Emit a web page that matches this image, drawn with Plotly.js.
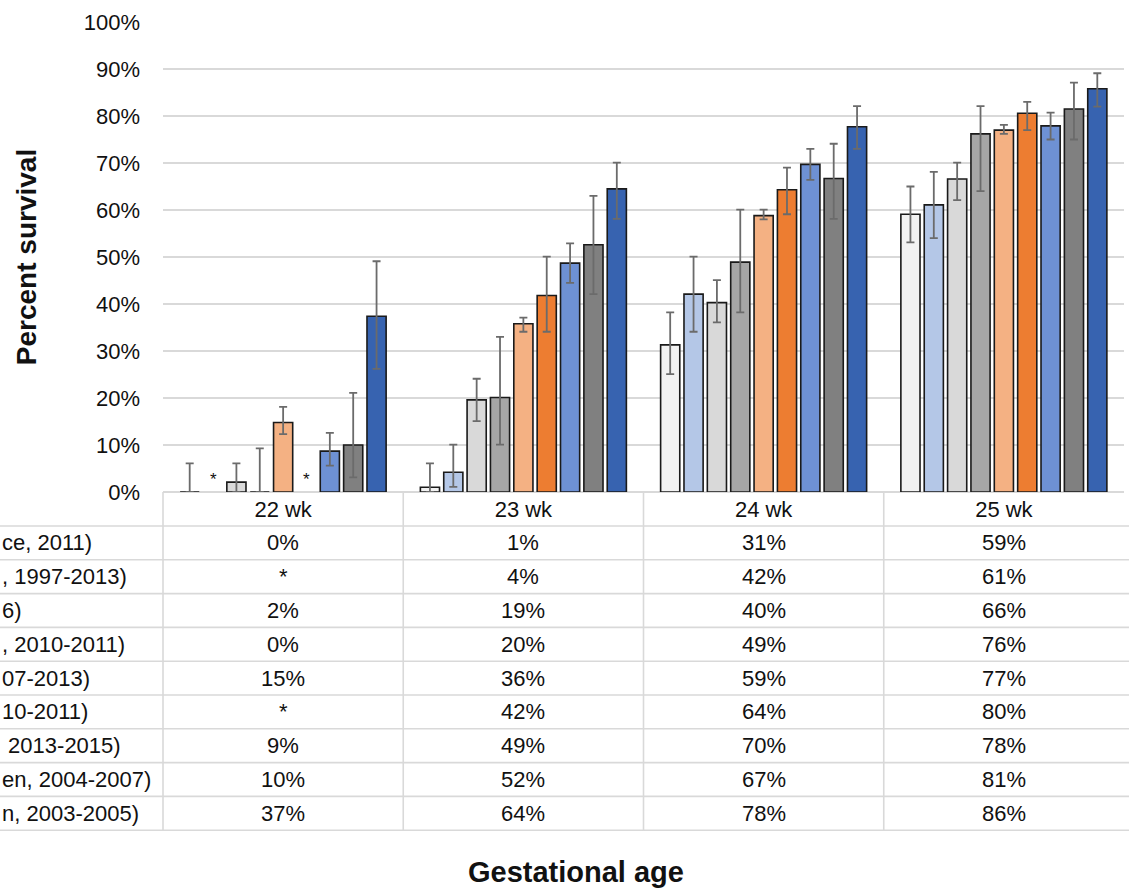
<!DOCTYPE html>
<html>
<head>
<meta charset="utf-8">
<script src="https://cdn.plot.ly/plotly-3.0.1.min.js"></script>
<style>html,body{margin:0;padding:0;background:#fff;}#chart{width:1129px;height:888px;}</style>
</head>
<body>
<div id="chart"></div>
<script>
// ---- data ----
var categories = ["22 wk", "23 wk", "24 wk", "25 wk"];
var seriesLabels = ["ce, 2011)", ", 1997-2013)", "6)", ", 2010-2011)", "07-2013)", "10-2011)", " 2013-2015)", "en, 2004-2007)", "n, 2003-2005)"];
var seriesColors = ["#F2F2F2", "#B4C7E7", "#D9D9D9", "#A6A6A6", "#F4B183", "#ED7D31", "#6E91D4", "#808080", "#3763B0"];

var s1 = [0, 1, 31.3, 59.1];
var s2 = [null, 4.2, 42.1, 61.1];
var s3 = [2.1, 19.6, 40.3, 66.6];
var s4 = [0, 20.1, 48.9, 76.2];
var s5 = [14.8, 35.8, 58.8, 77.0];
var s6 = [null, 41.8, 64.3, 80.6];
var s7 = [8.7, 48.7, 69.7, 77.9];
var s8 = [10.0, 52.6, 66.7, 81.5];
var s9 = [37.4, 64.5, 77.7, 85.8];

var s1Hi = [6.1, 6.1, 38.2, 65.0],  s1Lo = [0, 0, 25.1, 53.1];
var s2Hi = [null, 10.1, 50.1, 68.1], s2Lo = [null, 1.1, 34.1, 54.0];
var s3Hi = [6.1, 24.1, 45.1, 70.1], s3Lo = [0, 15.1, 36.1, 62.1];
var s4Hi = [9.3, 33.0, 60.1, 82.1], s4Lo = [0, 10.1, 38.2, 64.0];
var s5Hi = [18.1, 37.1, 60.1, 78.1], s5Lo = [12.3, 34.1, 58.0, 76.2];
var s6Hi = [null, 50.1, 69.0, 83.0], s6Lo = [null, 34.1, 59.1, 77.0];
var s7Hi = [12.6, 52.9, 73.0, 80.7], s7Lo = [5.6, 44.5, 66.4, 75.0];
var s8Hi = [21.1, 63.0, 74.1, 87.1], s8Lo = [3.1, 42.1, 58.1, 75.0];
var s9Hi = [49.1, 70.1, 82.1, 89.1], s9Lo = [26.2, 58.1, 73.0, 82.0];

var tableText = [
  ["0%", "1%", "31%", "59%"],
  ["*", "4%", "42%", "61%"],
  ["2%", "19%", "40%", "66%"],
  ["0%", "20%", "49%", "76%"],
  ["15%", "36%", "59%", "77%"],
  ["*", "42%", "64%", "80%"],
  ["9%", "49%", "70%", "78%"],
  ["10%", "52%", "67%", "81%"],
  ["37%", "64%", "78%", "86%"]
];

var values = [s1, s2, s3, s4, s5, s6, s7, s8, s9];
var highs = [s1Hi, s2Hi, s3Hi, s4Hi, s5Hi, s6Hi, s7Hi, s8Hi, s9Hi];
var lows = [s1Lo, s2Lo, s3Lo, s4Lo, s5Lo, s6Lo, s7Lo, s8Lo, s9Lo];

var FONT = "Liberation Sans, Arial, Helvetica, sans-serif";
var TXT = "#111111";

var traces = values.map(function (v, i) {
  return {
    type: "bar",
    name: seriesLabels[i],
    x: categories,
    y: v,
    marker: {color: seriesColors[i], line: {color: "#1a1a1a", width: 1.6}},
    error_y: {
      type: "data", symmetric: false,
      array: v.map(function (y, k) { return y == null ? null : highs[i][k] - y; }),
      arrayminus: v.map(function (y, k) { return y == null ? null : y - lows[i][k]; }),
      color: "#6b6b6b", thickness: 1.8, width: 4
    },
    hoverinfo: "x+y+name"
  };
});

// ---- geometry of the table (layout only) ----
var plotTop = 22, plotBottom = 492, plotLeft = 163, plotRight = 1124;
var H = plotBottom - plotTop, W = plotRight - plotLeft;
function py(p) { return (plotBottom - p) / H; }
function px(p) { return (p - plotLeft) / W; }
var headerBottom = 526, rowH = 33.8, nRows = seriesLabels.length;

var shapes = [];
var lineStyle = {color: "#d9d9d9", width: 1.6};
for (var r = 0; r <= nRows; r++) {
  var yy = py(headerBottom + r * rowH);
  shapes.push({type: "line", xref: "paper", yref: "paper", x0: px(0), x1: px(1129), y0: yy, y1: yy, line: lineStyle});
}
for (var c = 0; c < categories.length; c++) {
  var xx = c / categories.length;
  shapes.push({type: "line", xref: "paper", yref: "paper", x0: xx, x1: xx, y0: py(plotBottom), y1: py(headerBottom + nRows * rowH), line: lineStyle});
}

var annotations = [];
// table cells
tableText.forEach(function (row, i) {
  var yc = py(headerBottom + (i + 0.5) * rowH);
  annotations.push({xref: "paper", yref: "paper", x: px(0), y: yc, xanchor: "left", yanchor: "middle",
    text: seriesLabels[i], showarrow: false, font: {family: FONT, size: 22, color: TXT}});
  row.forEach(function (t, k) {
    annotations.push({xref: "x", yref: "paper", x: categories[k], y: yc, xanchor: "center", yanchor: "middle",
      text: t, showarrow: false, font: {family: FONT, size: 22, color: TXT}});
  });
});
// asterisks for missing bars
var groupW = (1 - 0.125) * (W / categories.length);
var slot = groupW / values.length;
values.forEach(function (v, i) {
  v.forEach(function (y, k) {
    if (y == null) {
      annotations.push({xref: "x", yref: "y", x: categories[k], y: 0, yanchor: "bottom", yshift: 1,
        xshift: (i - (values.length - 1) / 2) * slot,
        text: "*", showarrow: false, font: {family: FONT, size: 17, color: TXT}});
    }
  });
});
// x title
annotations.push({xref: "paper", yref: "paper", x: px(576), y: py(872), xanchor: "center", yanchor: "middle",
  text: "<b>Gestational age</b>", showarrow: false, font: {family: FONT, size: 29, color: TXT}});

var layout = {
  width: 1129, height: 888,
  margin: {l: plotLeft, r: 1129 - plotRight, t: plotTop, b: 888 - plotBottom, pad: 0},
  paper_bgcolor: "#ffffff", plot_bgcolor: "#ffffff",
  showlegend: false,
  barmode: "group", bargap: 0.125, bargroupgap: 0.18,
  font: {family: FONT, color: TXT},
  xaxis: {
    type: "category", showgrid: false, zeroline: false, showline: false,
    ticks: "", tickfont: {family: FONT, size: 22, color: TXT}, ticklabelstandoff: 2
  },
  yaxis: {
    range: [0, 100], dtick: 10, ticksuffix: "%", showgrid: true, gridcolor: "#d9d9d9", gridwidth: 1.6,
    zeroline: true, zerolinecolor: "#d9d9d9", zerolinewidth: 1.6, showline: false,
    ticks: "", ticklabelstandoff: 22, tickfont: {family: FONT, size: 22, color: TXT},
    title: {text: "<b>Percent survival</b>", font: {family: FONT, size: 28, color: TXT}, standoff: 38}
  },
  shapes: shapes,
  annotations: annotations
};

Plotly.newPlot("chart", traces, layout, {displayModeBar: false, staticPlot: true});
</script>
</body>
</html>
